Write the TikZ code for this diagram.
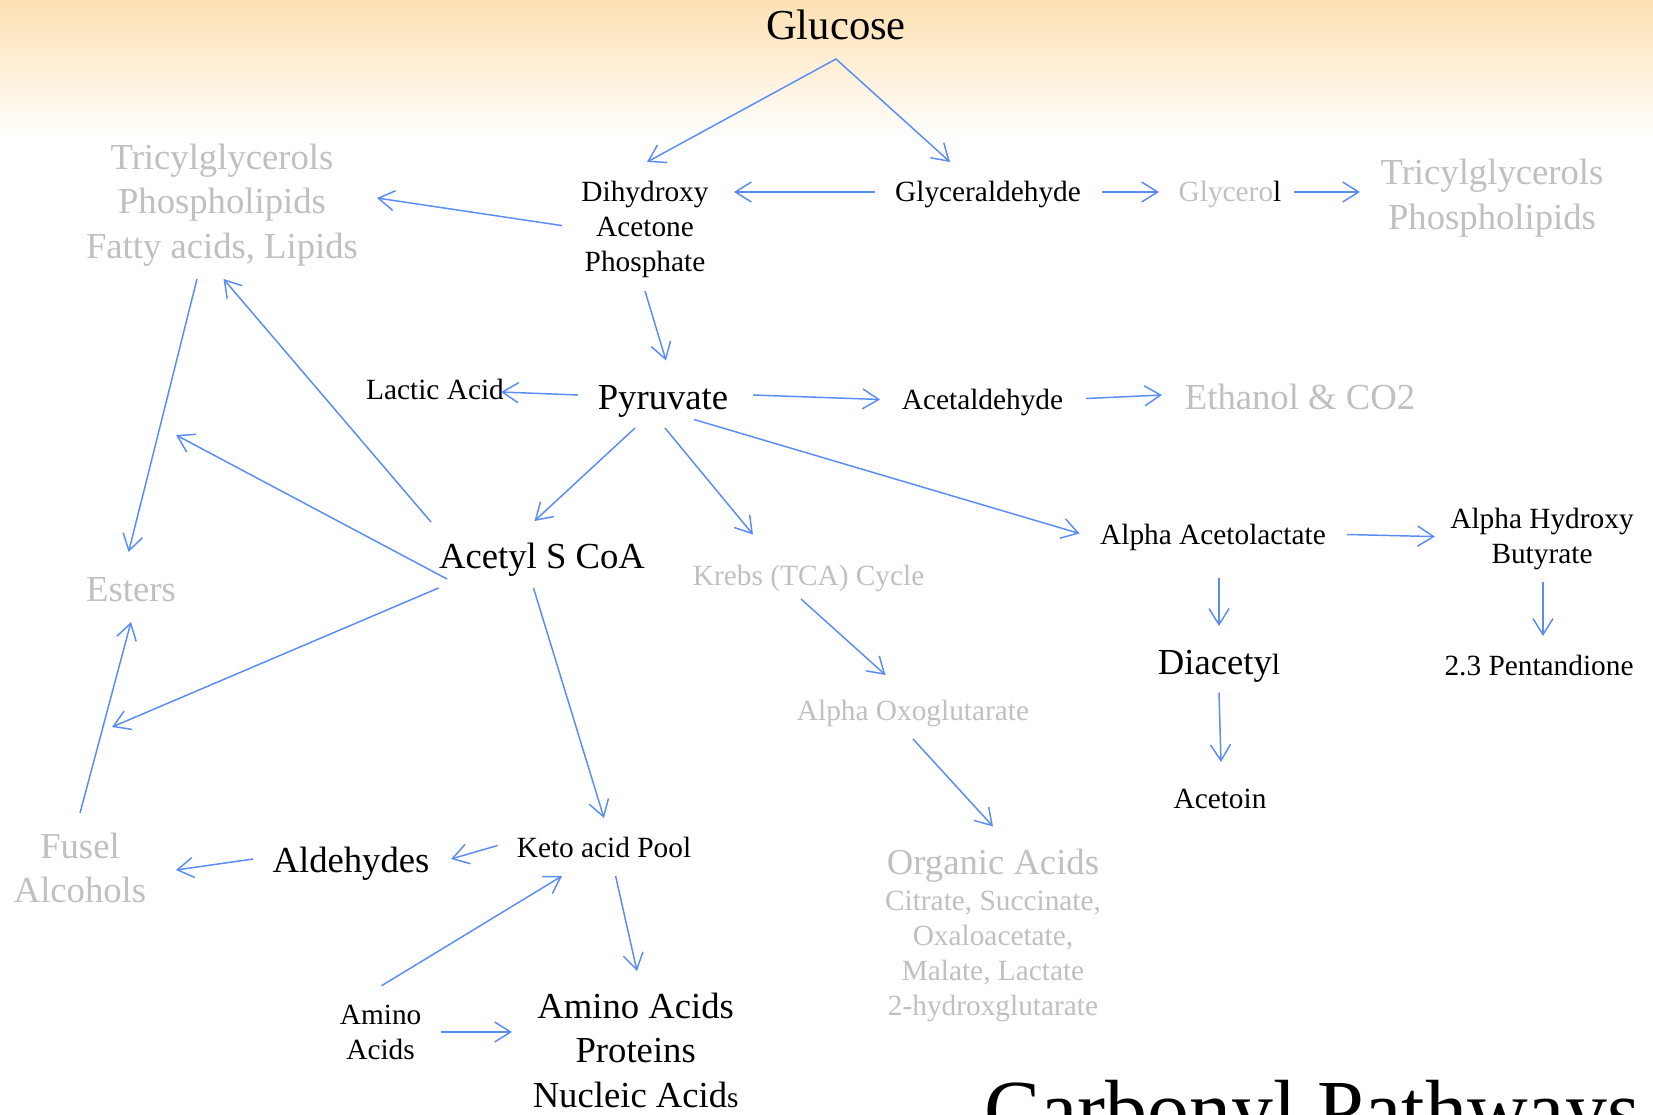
\documentclass[tikz,border=0pt]{standalone}
\usepackage{fontspec}
\setmainfont{Liberation Serif}
\usetikzlibrary{arrows.meta}
\definecolor{flowblue}{RGB}{90,140,245}
\definecolor{fadegray}{RGB}{192,192,192}
\definecolor{peach}{RGB}{253,225,178}

\begin{document}
\begin{tikzpicture}[x=0.75pt,y=-0.75pt,
  lbl/.style={inner sep=0pt, anchor=base, align=center, font=\fontsize{22}{26.4}\selectfont},
  big/.style={inner sep=0pt, anchor=base, align=center, font=\fontsize{27.5}{33.6}\selectfont},
  faded/.style={text=fadegray},
  flow/.style={draw=flowblue, line width=1.1pt, -{Straight Barb[length=12pt,width=15pt]}}]

% page and warm band along the top
\useasboundingbox (0,0) rectangle (1653,1114);
\clip (0,0) rectangle (1653,1114);
\fill[white] (0,0) rectangle (1653,1114);
\shade[top color=peach, bottom color=white] (0,0) rectangle (1653,140);

% metabolites (multi-line nodes sit on the baseline of their last line)
\node[inner sep=0pt, anchor=base, font=\fontsize{32}{38}\selectfont] (glu) at (836,39) {Glucose};
\node[big, faded] (tgl) at (222,258.6) {Tricylglycerols\\Phospholipids\\Fatty acids, Lipids};
\node[lbl] (dap) at (645,271.4) {Dihydroxy\\Acetone\\Phosphate};
\node[lbl] (gald) at (988,201) {Glyceraldehyde};
\node[lbl] (glyc) at (1230,201) {{\color{fadegray}Glycero}l};
\node[big, faded] (tgr) at (1492,229.3) {Tricylglycerols\\Phospholipids};
\node[lbl] (lac) at (435,399.5) {Lactic Acid};
\node[big] (pyr) at (663,409) {Pyruvate};
\node[lbl] (acet) at (982.5,409) {Acetaldehyde};
\node[big, faded] (eth) at (1300,409) {Ethanol \& CO2};
\node[big] (coa) at (542,568) {Acetyl S CoA};
\node[big, faded] (est) at (131,601) {Esters};
\node[lbl, faded] (krebs) at (808.6,585) {Krebs (TCA) Cycle};
\node[lbl] (aal) at (1213,544) {Alpha Acetolactate};
\node[lbl] (ahb) at (1542,563.2) {Alpha Hydroxy\\Butyrate};
\node[big] (dia) at (1219,674) {Diacety{\fontsize{22}{26}\selectfont l}};
\node[lbl] (pent) at (1539,675) {2.3 Pentandione};
\node[lbl, faded] (aog) at (913,720) {Alpha Oxoglutarate};
\node[lbl] (acn) at (1220,808.6) {Acetoin};
\node[big, faded] (fus) at (80,902.8) {Fusel\\Alcohols};
\node[big] (ald) at (351,872) {Aldehydes};
\node[lbl] (keto) at (604,857) {Keto acid Pool};
\node[big, faded] (org) at (993,874) {Organic Acids};
\node[lbl, faded] (orgl) at (993,1015.6) {Citrate, Succinate,\\Oxaloacetate,\\Malate, Lactate\\2-hydroxglutarate};
\node[lbl] (amsm) at (380.6,1059.2) {Amino\\Acids};
\node[big] (amb) at (635.7,1107.6) {Amino Acids\\Proteins\\Nucleic Acid{\fontsize{22}{26}\selectfont s}};
\node[inner sep=0pt, anchor=base west, font=\fontsize{63}{75}\selectfont] (title) at (984,1138) {Carbonyl Pathways};

% loose arrow ends
\coordinate (upper) at (176,435);
\coordinate (lower) at (112,727);

% flows
\draw[flow] ([shift={(0,20)}]glu.base) -- ([shift={(2,-109.4)}]dap.base);
\draw[flow] ([shift={(0,20)}]glu.base) -- ([shift={(-38,-39)}]gald.base);
\draw[flow] ([shift={(-113,-9)}]gald.base) -- ([shift={(89,-79.4)}]dap.base);
\draw[flow] ([shift={(114,-9)}]gald.base) -- ([shift={(-71,-9)}]glyc.base);
\draw[flow] ([shift={(64,-9)}]glyc.base) -- ([shift={(-132,-37.3)}]tgr.base);
\draw[flow] ([shift={(-83,-45.8)}]dap.base) -- ([shift={(155,-60.6)}]tgl.base);
\draw[flow] ([shift={(0,19.6)}]dap.base) -- ([shift={(3,-48.5)}]pyr.base);
\draw[flow] ([shift={(-85,-14)}]pyr.base) -- ([shift={(66,-7.5)}]lac.base);
\draw[flow] ([shift={(90,-14)}]pyr.base) -- ([shift={(-102.5,-9.5)}]acet.base);
\draw[flow] ([shift={(103.5,-10.5)}]acet.base) -- ([shift={(-138,-14)}]eth.base);
\draw[flow] ([shift={(-28,19)}]pyr.base) -- ([shift={(-7.5,-47)}]coa.base);
\draw[flow] ([shift={(2,19)}]pyr.base) -- ([shift={(-55.6,-50.5)}]krebs.base);
\draw[flow] ([shift={(31,10.5)}]pyr.base) -- ([shift={(-133.5,-10.5)}]aal.base);
\draw[flow] ([shift={(-111,-46)}]coa.base) -- ([shift={(1.5,20.4)}]tgl.base);
\draw[flow] ([shift={(-95,11)}]coa.base) -- (upper);
\draw[flow] ([shift={(-103.5,20)}]coa.base) -- (lower);
\draw[flow] ([shift={(-8.5,20)}]coa.base) -- ([shift={(0,-39)}]keto.base);
\draw[flow] ([shift={(-25,20.4)}]tgl.base) -- ([shift={(-2.4,-49)}]est.base);
\draw[flow] ([shift={(0,-89.8)}]fus.base) -- ([shift={(0,21)}]est.base);
\draw[flow] ([shift={(-106.4,-11.5)}]keto.base) -- ([shift={(100,-13)}]ald.base);
\draw[flow] ([shift={(-98,-13)}]ald.base) -- ([shift={(96,-32.8)}]fus.base);
\draw[flow] ([shift={(1,-73.5)}]amsm.base) -- ([shift={(-42,19)}]keto.base);
\draw[flow] ([shift={(11.6,19)}]keto.base) -- ([shift={(1.3,-136.6)}]amb.base);
\draw[flow] ([shift={(60,-27.2)}]amsm.base) -- ([shift={(-123.7,-75.6)}]amb.base);
\draw[flow] ([shift={(-7.6,14)}]krebs.base) -- ([shift={(-27.5,-45)}]aog.base);
\draw[flow] ([shift={(0,19)}]aog.base) -- ([shift={(0,-47.5)}]org.base);
\draw[flow] ([shift={(134,-9.5)}]aal.base) -- ([shift={(-107,-26.6)}]ahb.base);
\draw[flow] ([shift={(6,34)}]aal.base) -- ([shift={(0,-48)}]dia.base);
\draw[flow] ([shift={(1,18.8)}]ahb.base) -- ([shift={(4,-39)}]pent.base);
\draw[flow] ([shift={(0,18.6)}]dia.base) -- ([shift={(1,-46.6)}]acn.base);
\end{tikzpicture}
\end{document}
